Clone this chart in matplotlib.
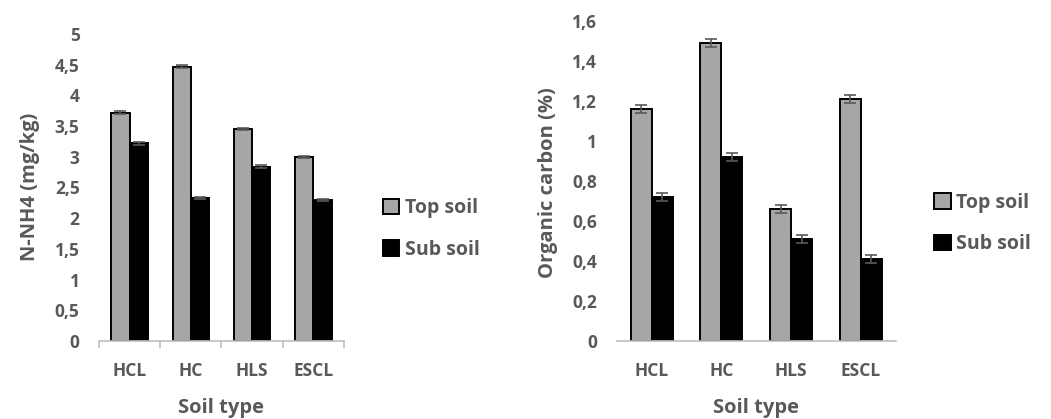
import matplotlib.pyplot as plt
import numpy as np
from matplotlib.ticker import FuncFormatter, FixedLocator

soil_types = ["HCL", "HC", "HLS", "ESCL"]

nh4_top = [3.72, 4.47, 3.45, 3.00]
nh4_sub = [3.22, 2.33, 2.84, 2.30]
nh4_top_err = [0.02, 0.02, 0.02, 0.02]
nh4_sub_err = [0.02, 0.02, 0.02, 0.02]

oc_top = [1.16, 1.49, 0.66, 1.21]
oc_sub = [0.72, 0.92, 0.51, 0.41]
oc_top_err = [0.02, 0.02, 0.02, 0.02]
oc_sub_err = [0.02, 0.02, 0.02, 0.02]

plt.rcParams['font.family'] = ['Open Sans', 'DejaVu Sans']
plt.rcParams['font.weight'] = 'bold'

txt = "#595959"
c = {"top": "#A6A6A6", "sub": "#000000"}


def comma(v, pos):
    s = "%g" % round(v, 2)
    return s.replace(".", ",")


def soil_bars(ax, top, sub, top_err, sub_err, ymax, step, ylabel, boundary_ticks):
    x = np.arange(len(soil_types))
    width = 0.3
    ekw = dict(ecolor="#5a5a5a", elinewidth=1.2, capsize=4, capthick=1.2)
    ax.bar(x - width/2, top, width, yerr=top_err, color=c["top"], edgecolor="black",
           linewidth=1.4, label="Top soil", error_kw=ekw, zorder=2)
    ax.bar(x + width/2, sub, width, yerr=sub_err, color=c["sub"], edgecolor="black",
           linewidth=1.4, label="Sub soil", error_kw=ekw, zorder=2)
    ax.set_xlim(-0.5, len(soil_types) - 0.5)
    ax.set_ylim(0, ymax)
    ax.set_yticks(np.arange(0, ymax + step/2, step))
    ax.yaxis.set_major_formatter(FuncFormatter(comma))
    ax.set_xticks(x)
    ax.set_xticklabels(soil_types)
    for s in ["top", "right", "left"]:
        ax.spines[s].set_visible(False)
    ax.spines["bottom"].set_color("#bfbfbf")
    ax.spines["bottom"].set_linewidth(1.2)
    ax.tick_params(axis="y", length=0, pad=14, labelsize=12.5, labelcolor=txt)
    ax.tick_params(axis="x", length=0, pad=15, labelsize=12.5, labelcolor=txt)
    for lab in ax.get_xticklabels() + ax.get_yticklabels():
        lab.set_fontweight("bold")
    if boundary_ticks:
        ax.xaxis.set_minor_locator(FixedLocator(np.arange(-0.5, len(soil_types), 1.0)))
        ax.tick_params(axis="x", which="minor", length=5, width=1.2, color="#bfbfbf")
    ax.set_xlabel("Soil type", fontsize=14.5, color=txt, fontweight="bold")
    ax.set_ylabel(ylabel, fontsize=14.5, color=txt, fontweight="bold")


fig = plt.figure(figsize=(10.51, 4.19), dpi=100)
ax1 = fig.add_axes([0.0942, 0.1862, 0.2331, 0.7327])
ax2 = fig.add_axes([0.5868, 0.1862, 0.2654, 0.7644])

soil_bars(ax1, nh4_top, nh4_sub, nh4_top_err, nh4_sub_err, 5, 0.5, "N-NH4 (mg/kg)", True)
soil_bars(ax2, oc_top, oc_sub, oc_top_err, oc_sub_err, 1.6, 0.2, "Organic carbon (%)", False)

ax1.yaxis.set_label_coords(40/1051, 1 - 187/419, transform=fig.transFigure)
ax2.yaxis.set_label_coords(558/1051, 1 - 183/419, transform=fig.transFigure)
ax1.xaxis.set_label_coords(221/1051, 1 - 398/419, transform=fig.transFigure)
ax2.xaxis.set_label_coords(756/1051, 1 - 398/419, transform=fig.transFigure)

for ax, pos in [(ax1, (0.364, 0.4535)), (ax2, (0.8887, 0.4666))]:
    leg = ax.legend(loc="center left", bbox_to_anchor=pos, bbox_transform=fig.transFigure,
                    frameon=False, borderpad=0, borderaxespad=0, handlelength=0.85,
                    handleheight=0.85, handletextpad=0.3, labelspacing=1.1,
                    prop={"size": 14, "weight": "bold"})
    for t in leg.get_texts():
        t.set_color(txt)

plt.savefig("out.png", dpi=100)
